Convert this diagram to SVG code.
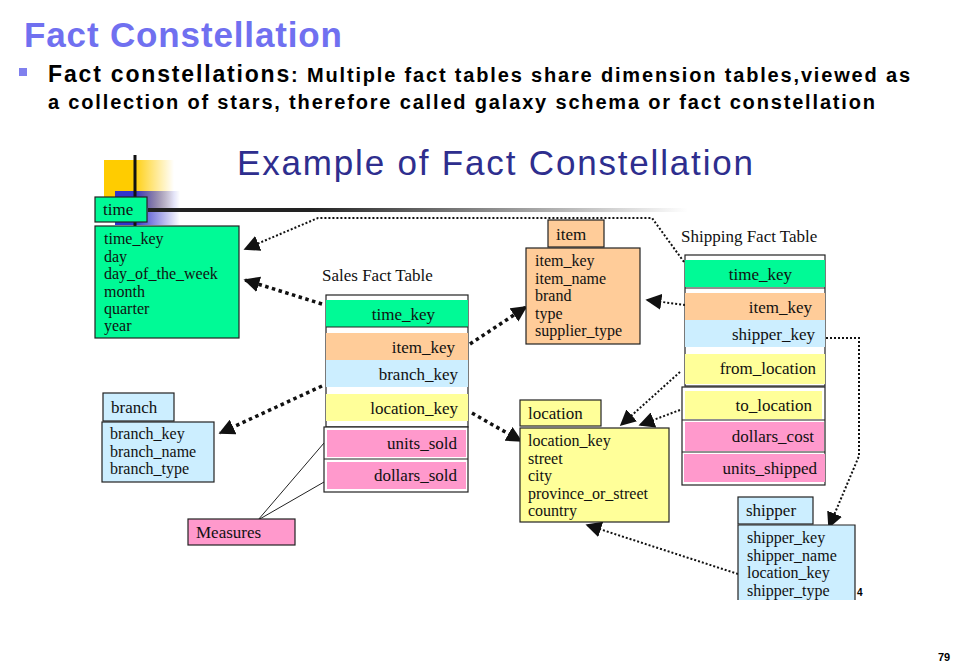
<svg xmlns="http://www.w3.org/2000/svg" width="960" height="665" viewBox="0 0 960 665">
<defs>
<style>
.s{font-family:"Liberation Serif",serif;font-size:16px;fill:#111}
.k{font-family:"Liberation Serif",serif;font-size:17px;fill:#111;text-anchor:end}
.h{font-family:"Liberation Serif",serif;font-size:17px;fill:#111}
.b{stroke:#222;stroke-width:1.2}
.d1{fill:none;stroke:#111;stroke-width:2;stroke-dasharray:2 2}
.d2{fill:none;stroke:#111;stroke-width:3.5;stroke-dasharray:3.5 3.5}
</style>
<marker id="A" viewBox="0 0 10 10" refX="9" refY="5" markerWidth="16" markerHeight="16" orient="auto" markerUnits="userSpaceOnUse"><path d="M0 0L10 5L0 10z" fill="#111"/></marker>
<linearGradient id="gy" x1="0" x2="1"><stop offset="0.4" stop-color="#ffcc00"/><stop offset="1" stop-color="#ffcc00" stop-opacity="0"/></linearGradient>
<linearGradient id="gb" x1="0" x2="1"><stop offset="0.3" stop-color="#3333cc"/><stop offset="1" stop-color="#3333cc" stop-opacity="0"/></linearGradient>
<linearGradient id="gl" x1="0" x2="1"><stop offset="0.3" stop-color="#222"/><stop offset="1" stop-color="#222" stop-opacity="0"/></linearGradient>
</defs>
<rect width="960" height="665" fill="#fff"/>
<text x="24" y="47" font-family="Liberation Sans,sans-serif" font-size="35" font-weight="bold" fill="#7070f0" textLength="318">Fact Constellation</text>
<rect x="19" y="68" width="8" height="8" fill="#8080ee"/>
<text x="48" y="82" font-family="Liberation Sans,sans-serif" font-weight="bold" fill="#000" textLength="862"><tspan font-size="23">Fact constellations</tspan><tspan font-size="20">: Multiple fact tables share dimension tables,viewed as</tspan></text>
<text x="48" y="109" font-family="Liberation Sans,sans-serif" font-weight="bold" font-size="20" fill="#000" textLength="827">a collection of stars, therefore called galaxy schema or fact constellation</text>
<text x="237" y="175" font-family="Liberation Sans,sans-serif" font-size="35" fill="#2e2e8e" textLength="516">Example of Fact Constellation</text>
<rect x="104" y="160" width="70" height="52" fill="url(#gy)"/>
<rect x="115" y="191" width="65" height="34" fill="url(#gb)"/>
<rect x="148" y="208" width="540" height="4" fill="url(#gl)"/>
<line x1="135" y1="155" x2="135" y2="226" stroke="#111" stroke-width="3"/>
<text x="938" y="661" font-family="Liberation Sans,sans-serif" font-size="11" font-weight="bold">79</text>

<g id="connectors">
<polyline class="d1" points="684,262 652,218 318,218 245,249" marker-end="url(#A)"/>
<line class="d2" x1="322" y1="304" x2="245" y2="280" marker-end="url(#A)"/>
<line class="d2" x1="470" y1="344" x2="526" y2="307" marker-end="url(#A)"/>
<line class="d2" x1="322" y1="386" x2="220" y2="433" marker-end="url(#A)"/>
<line class="d2" x1="472" y1="413" x2="521" y2="441" marker-end="url(#A)"/>
<line class="d1" x1="693" y1="306" x2="647" y2="300" marker-end="url(#A)"/>
<line class="d1" x1="680" y1="372" x2="621" y2="425" marker-end="url(#A)"/>
<line class="d1" x1="680" y1="410" x2="640" y2="425" marker-end="url(#A)"/>
<polyline class="d1" points="826,338 859,338 859,456 829,527" marker-end="url(#A)"/>
<line class="d1" x1="738" y1="574" x2="587" y2="525" marker-end="url(#A)"/>
<line x1="258" y1="520" x2="324" y2="443" stroke="#222"/>
<line x1="258" y1="520" x2="324" y2="482" stroke="#222"/>
</g>

<g id="time">
<rect class="b" x="95" y="197" width="52" height="25" fill="#00fa96"/>
<text class="h" x="103" y="215">time</text>
<rect class="b" x="95" y="226" width="144" height="112" fill="#00fa96"/>
<text class="s" x="104" y="244">time_key</text><text class="s" x="104" y="262">day</text><text class="s" x="104" y="279">day_of_the_week</text><text class="s" x="104" y="297">month</text><text class="s" x="104" y="314">quarter</text><text class="s" x="104" y="331">year</text>
</g>

<g id="sales">
<text class="h" x="322" y="281">Sales Fact Table</text>
<rect class="b" x="326" y="295" width="142" height="132" fill="#fff"/>
<rect x="326" y="300" width="142" height="27" fill="#00fa96"/>
<line class="b" x1="326" y1="327" x2="468" y2="327"/>
<text class="k" x="435" y="320">time_key</text>
<rect x="326" y="333" width="142" height="27" fill="#ffcc99"/>
<text class="k" x="455" y="353">item_key</text>
<rect x="326" y="360" width="142" height="27" fill="#cceeff"/>
<text class="k" x="458" y="380">branch_key</text>
<rect x="326" y="394" width="142" height="27" fill="#ffff99"/>
<text class="k" x="458" y="414">location_key</text>
<rect class="b" x="324" y="427" width="144" height="65" fill="#fff"/>
<rect x="327" y="430" width="139" height="27" fill="#ff99cc"/>
<line class="b" x1="324" y1="459" x2="468" y2="459"/>
<text class="k" x="457" y="449">units_sold</text>
<rect x="327" y="462" width="139" height="27" fill="#ff99cc"/>
<text class="k" x="457" y="481">dollars_sold</text>
</g>

<g id="item">
<rect class="b" x="548" y="220" width="56" height="27" fill="#ffcc99"/>
<text class="h" x="556" y="240">item</text>
<rect class="b" x="526" y="248" width="114" height="96" fill="#ffcc99"/>
<text class="s" x="535" y="266">item_key</text><text class="s" x="535" y="284">item_name</text><text class="s" x="535" y="301">brand</text><text class="s" x="535" y="319">type</text><text class="s" x="535" y="336">supplier_type</text>
</g>

<g id="shipping">
<text class="h" x="681" y="242">Shipping Fact Table</text>
<rect class="b" x="685" y="255" width="140" height="131" fill="#fff"/>
<rect x="685" y="260" width="140" height="27" fill="#00fa96"/>
<line class="b" x1="685" y1="288" x2="825" y2="288"/>
<text class="k" x="792" y="280">time_key</text>
<rect x="685" y="293" width="140" height="27" fill="#ffcc99"/>
<text class="k" x="812" y="313">item_key</text>
<rect x="685" y="320" width="140" height="27" fill="#cceeff"/>
<text class="k" x="815" y="340">shipper_key</text>
<rect x="685" y="354" width="140" height="30" fill="#ffff99"/>
<text class="k" x="816" y="374">from_location</text>
<rect class="b" x="682" y="387" width="143" height="98" fill="#fff"/>
<rect x="685" y="391" width="137" height="28" fill="#ffff99"/>
<line class="b" x1="682" y1="420" x2="825" y2="420"/>
<text class="k" x="812" y="411">to_location</text>
<rect x="685" y="422" width="139" height="29" fill="#ff99cc"/>
<line class="b" x1="682" y1="452" x2="825" y2="452"/>
<text class="k" x="814" y="442">dollars_cost</text>
<rect x="684" y="454" width="141" height="28" fill="#ff99cc"/>
<text class="k" x="817" y="474">units_shipped</text>
</g>

<g id="location">
<rect class="b" x="520" y="400" width="81" height="26" fill="#ffff99"/>
<text class="h" x="528" y="419">location</text>
<rect class="b" x="520" y="428" width="149" height="94" fill="#ffff99"/>
<text class="s" x="528" y="446">location_key</text><text class="s" x="528" y="464">street</text><text class="s" x="528" y="481">city</text><text class="s" x="528" y="499">province_or_street</text><text class="s" x="528" y="516">country</text>
</g>

<g id="branch">
<rect class="b" x="103" y="393" width="71" height="28" fill="#cceeff"/>
<text class="h" x="111" y="413">branch</text>
<rect class="b" x="102" y="422" width="112" height="60" fill="#cceeff"/>
<text class="s" x="110" y="439">branch_key</text><text class="s" x="110" y="457">branch_name</text><text class="s" x="110" y="474">branch_type</text>
</g>

<g id="measures">
<rect class="b" x="188" y="519" width="107" height="26" fill="#ff99cc"/>
<text class="h" x="196" y="538">Measures</text>
</g>

<g id="shipper">
<rect class="b" x="738" y="497" width="75" height="27" fill="#cceeff"/>
<text class="h" x="746" y="516">shipper</text>
<path class="b" d="M738,600V525H855V600" fill="#cceeff"/>
<text class="s" x="747" y="543">shipper_key</text><text class="s" x="747" y="561">shipper_name</text><text class="s" x="747" y="578">location_key</text><text class="s" x="747" y="596">shipper_type</text>
<text x="857" y="596" font-family="Liberation Sans,sans-serif" font-size="10" font-weight="bold">4</text>
</g>
</svg>
